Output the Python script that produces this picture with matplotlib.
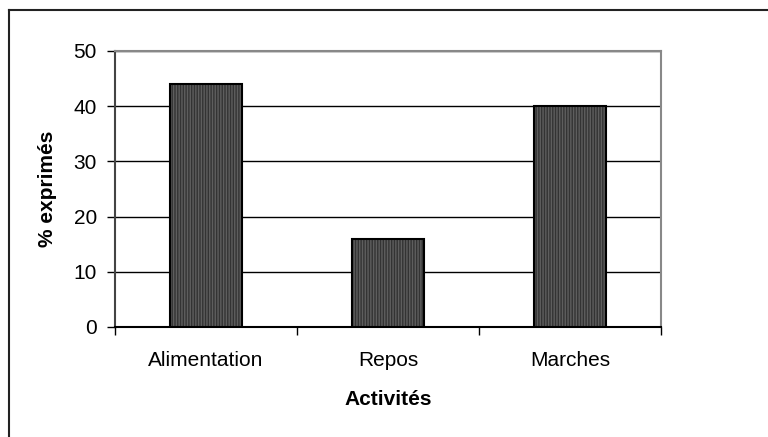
import matplotlib.pyplot as plt
from matplotlib.lines import Line2D

activites = ["Alimentation", "Repos", "Marches"]
pourcentages = [44, 16, 40]
yticks = [0, 10, 20, 30, 40, 50]

plt.rcParams['font.family'] = ['Liberation Sans', 'DejaVu Sans']

fig = plt.figure(figsize=(7.68, 4.37), dpi=100)
ax = fig.add_axes([115/768, 110/437, 546/768, 276/437])

x = range(len(activites))
# fond sombre + hachures verticales fines, puis contour noir
ax.bar(x, pourcentages, width=0.4, color="#333333", edgecolor="#5e5e5e",
       hatch="||||||", linewidth=0, zorder=3)
ax.bar(x, pourcentages, width=0.4, fill=False, edgecolor="black",
       linewidth=1.5, zorder=4)

ax.set_xlim(-0.5, len(activites) - 0.5)
ax.set_ylim(0, 50)
ax.set_yticks(yticks)
ax.yaxis.grid(True, color="black", linewidth=1)
ax.set_axisbelow(True)

ax.set_xticks([i - 0.5 for i in range(len(activites) + 1)])
ax.set_xticklabels([])
ax.set_xticks(list(x), minor=True)
ax.set_xticklabels(activites, minor=True, fontsize=15)
ax.tick_params(axis="x", which="major", length=6, width=1, direction="out")
ax.tick_params(axis="x", which="minor", length=0, pad=17)
ax.tick_params(axis="y", length=6, width=1, pad=7, labelsize=15)

for s in ["top", "right"]:
    ax.spines[s].set_color("#888888")
    ax.spines[s].set_linewidth(1.5)
ax.spines["left"].set_color("#444444")
ax.spines["left"].set_linewidth(1.5)
ax.spines["bottom"].set_color("black")
ax.spines["bottom"].set_linewidth(1.5)

ax.set_ylabel("% exprimés", fontsize=15, fontweight="bold", labelpad=12)
ax.set_xlabel("Activités", fontsize=15, fontweight="bold", labelpad=15)

# cadre du graphique (haut et gauche visibles)
fig.add_artist(Line2D([9/768, 9/768], [0, 1 - 10/437], color="#222222", linewidth=1.5))
fig.add_artist(Line2D([9/768, 1], [1 - 10/437, 1 - 10/437], color="#222222", linewidth=1.5))

fig.savefig("out.png", dpi=100)
